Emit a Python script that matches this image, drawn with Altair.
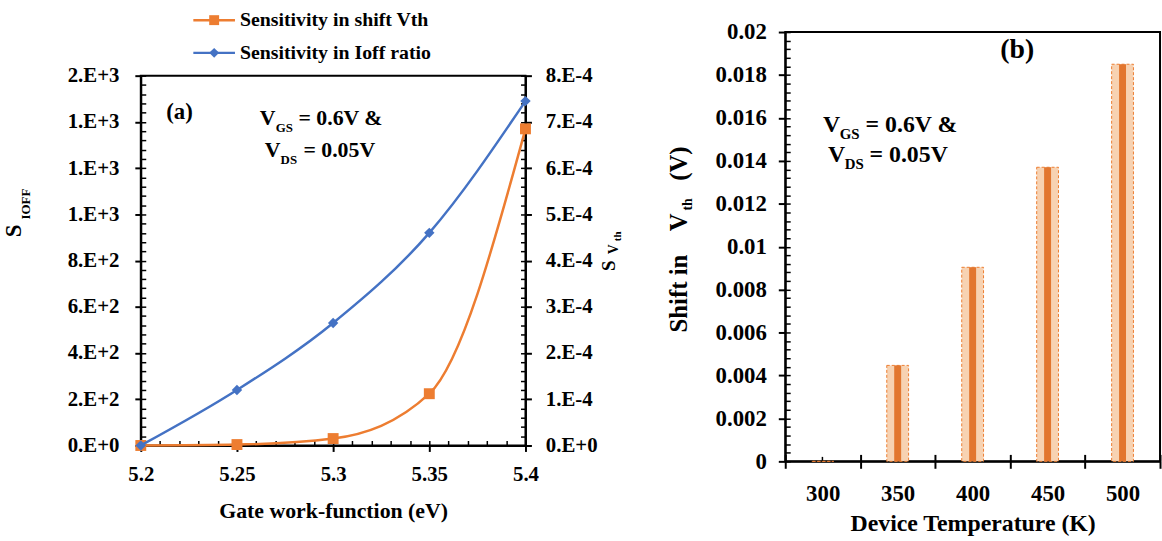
import altair as alt
import pandas as pd

FONT = "Liberation Serif"
ORANGE = "#ED7D31"
BLUE = "#4472C4"

# ---------------- Panel (a) data ----------------
work_function = [5.2, 5.25, 5.3, 5.35, 5.4]
sens_ioff = [0, 240, 530, 920, 1490]
sens_vth = [0.0, 0.000002, 0.000015, 0.000112, 0.000685]

x_ticks_a = [5.2, 5.25, 5.3, 5.35, 5.4]
x_labels_a = ["5.2", "5.25", "5.3", "5.35", "5.4"]
left_ticks = [0, 200, 400, 600, 800, 1000, 1200, 1400, 1600]
left_labels = ["0.E+0", "2.E+2", "4.E+2", "6.E+2", "8.E+2", "1.E+3", "1.E+3", "1.E+3", "2.E+3"]
right_ticks = [0, 0.0001, 0.0002, 0.0003, 0.0004, 0.0005, 0.0006, 0.0007, 0.0008]
right_labels = ["0.E+0", "1.E-4", "2.E-4", "3.E-4", "4.E-4", "5.E-4", "6.E-4", "7.E-4", "8.E-4"]

# ---------------- Panel (b) data ----------------
temperature = ["300", "350", "400", "450", "500"]
shift_vth = [0.0, 0.00447, 0.00904, 0.0137, 0.0185]
b_ticks = [0, 0.002, 0.004, 0.006, 0.008, 0.01, 0.012, 0.014, 0.016, 0.018, 0.02]
b_labels = ["0", "0.002", "0.004", "0.006", "0.008", "0.01", "0.012", "0.014", "0.016", "0.018", "0.02"]

# minor tick positions (axis styling)
minor_x_a = [round(5.2 + i * 0.01, 2) for i in range(21)]
minor_left = [i * 40 for i in range(41)]
minor_right = [round(i * 0.00002, 6) for i in range(41)]
minor_b = [round(i * 0.0004, 4) for i in range(51)]

W_A, H_A = 388, 373
W_B, H_B = 378, 433


def lab_expr(ticks, labels):
    arr = "[" + ",".join(f"'{l}'" for l in labels) + "]"
    tarr = "[" + ",".join(repr(t) for t in ticks) + "]"
    return f"{arr}[indexof({tarr}, datum.value)]"


def txt(text, x, y, size, angle=0, align="left", baseline="alphabetic"):
    return alt.Chart(pd.DataFrame({"k": [0]})).mark_text(
        text=text, font=FONT, fontWeight="bold", fontSize=size, angle=angle,
        align=align, baseline=baseline, color="black"
    ).encode(x=alt.value(x), y=alt.value(y))


df_a = pd.DataFrame({"wf": work_function, "ioff": sens_ioff, "vth": sens_vth})
df_b = pd.DataFrame({"temp": temperature, "shift": shift_vth})

xs_a = alt.Scale(domain=[5.2, 5.4], nice=False, zero=False)
y1s = alt.Scale(domain=[0, 1600], nice=False)
y2s = alt.Scale(domain=[0, 0.0008], nice=False)

base_a = alt.Chart(df_a)

orange = base_a.mark_line(
    color=ORANGE, strokeWidth=2.5, interpolate="monotone",
    point=alt.OverlayMarkDef(shape="square", filled=True, size=121, color=ORANGE, opacity=1),
).encode(
    x=alt.X("wf:Q", scale=xs_a, axis=None),
    y=alt.Y("vth:Q", scale=y2s, axis=alt.Axis(
        orient="right", values=right_ticks, labelExpr=lab_expr(right_ticks, right_labels),
        tickSize=6, tickWidth=2, labelPadding=14, labelFontSize=21, title=None)),
)

orange_inner = base_a.mark_point(opacity=0).encode(
    x=alt.X("wf:Q", scale=xs_a, axis=None),
    y=alt.Y("vth:Q", scale=y2s, axis=alt.Axis(
        orient="left", offset=-W_A, values=minor_right, labels=False, domain=False,
        tickSize=5, tickWidth=1.5, title=None)),
)

blue = base_a.mark_line(
    color=BLUE, strokeWidth=2.5, interpolate="monotone",
    point=alt.OverlayMarkDef(shape="diamond", filled=True, size=110, color=BLUE, opacity=1),
).encode(
    x=alt.X("wf:Q", scale=xs_a, axis=alt.Axis(
        orient="bottom", values=x_ticks_a, labelExpr=lab_expr(x_ticks_a, x_labels_a),
        labelFlush=False, tickSize=6, tickWidth=2, labelPadding=12, labelFontSize=21,
        title="Gate work-function  (eV)", titleFontSize=22, titlePadding=17)),
    y=alt.Y("ioff:Q", scale=y1s, axis=alt.Axis(
        orient="left", values=left_ticks, labelExpr=lab_expr(left_ticks, left_labels),
        tickSize=6, tickWidth=2, labelPadding=16, labelFontSize=21, title=None)),
)

blue_inner = base_a.mark_point(opacity=0).encode(
    x=alt.X("wf:Q", scale=xs_a, axis=alt.Axis(
        orient="top", offset=-H_A, values=minor_x_a, labels=False, domain=False,
        tickSize=5, tickWidth=1.5, title=None)),
    y=alt.Y("ioff:Q", scale=y1s, axis=alt.Axis(
        orient="right", offset=-W_A, values=minor_left, labels=False, domain=False,
        tickSize=5, tickWidth=1.5, title=None)),
)

ann_a = [
    txt("(a)", 39, 37, 23, align="center", baseline="middle"),
    txt("V", 120, 50, 22),
    txt("GS", 136, 57, 13),
    txt("= 0.6V &", 159, 50, 22),
    txt("V", 125, 82, 22),
    txt("DS", 141, 89, 13),
    txt("= 0.05V", 164, 82, 22),
    # left axis title S_IOFF
    txt("S", -121, 163, 23, angle=270),
    txt("IOFF", -112, 145, 13, angle=270),
    # right axis title S_Vth
    txt("S", 478, 197, 19, angle=270),
    txt("V", 481, 180, 14, angle=270),
    txt("th", 484, 167, 11, angle=270),
]

panel_a = alt.layer(orange, orange_inner, blue, blue_inner, *ann_a).resolve_scale(
    x="independent", y="independent"
).properties(width=W_A, height=H_A)

# legend (manual) as its own small view above panel a
leg_df = pd.DataFrame({"k": [0]})
Y1, Y2 = -12, 21
legend_chart = alt.layer(
    alt.Chart(leg_df).mark_rule(color=ORANGE, strokeWidth=2.5).encode(
        x=alt.value(53), x2=alt.value(95), y=alt.value(Y1)),
    alt.Chart(leg_df).mark_point(shape="square", filled=True, size=100, color=ORANGE, opacity=1).encode(
        x=alt.value(74), y=alt.value(Y1)),
    txt("Sensitivity in shift Vth", 100, Y1, 20, baseline="middle"),
    alt.Chart(leg_df).mark_rule(color=BLUE, strokeWidth=2.5).encode(
        x=alt.value(53), x2=alt.value(95), y=alt.value(Y2)),
    alt.Chart(leg_df).mark_point(shape="diamond", filled=True, size=100, color=BLUE, opacity=1).encode(
        x=alt.value(74), y=alt.value(Y2)),
    txt("Sensitivity in Ioff ratio", 100, Y2, 20, baseline="middle"),
).properties(width=W_A, height=31, view=alt.ViewBackground(stroke="transparent"))

left_block = alt.vconcat(legend_chart, panel_a, spacing=0)

# ---------------- Panel (b) ----------------
xs_b = alt.Scale(type="band", domain=temperature, paddingInner=0, paddingOuter=0)
ys_b = alt.Scale(domain=[0, 0.02], nice=False)
base_b = alt.Chart(df_b)

bars_bg = base_b.mark_bar(size=22, fill="#f7d2b2", stroke=ORANGE, strokeDash=[3, 2], strokeWidth=1).encode(
    x=alt.X("temp:N", scale=xs_b, sort=temperature, axis=alt.Axis(
        orient="bottom", tickBand="extent", tickSize=7, tickWidth=2, labelAngle=0,
        labelPadding=14, labelFontSize=23, title="Device Temperature  (K)",
        titleFontSize=24, titlePadding=7)),
    y=alt.Y("shift:Q", scale=ys_b, axis=alt.Axis(
        orient="left", values=b_ticks, labelExpr=lab_expr(b_ticks, b_labels),
        tickSize=7, tickWidth=2, labelPadding=12, labelFontSize=23, title=None)),
)

bars_fg = base_b.mark_bar(size=7, fill="#e2762f").encode(
    x=alt.X("temp:N", scale=xs_b, sort=temperature, axis=None),
    y=alt.Y("shift:Q", scale=ys_b, axis=None),
)

inner_b1 = base_b.mark_point(opacity=0).encode(
    x=alt.X("temp:N", scale=xs_b, sort=temperature, axis=alt.Axis(
        orient="top", offset=-H_B, tickBand="center", labels=False, domain=False,
        tickSize=5, tickWidth=1.5, title=None)),
    y=alt.Y("shift:Q", scale=ys_b, axis=alt.Axis(
        orient="right", offset=-W_B, values=minor_b, labels=False, domain=False,
        tickSize=5, tickWidth=1.5, title=None)),
)

inner_b2 = base_b.mark_point(opacity=0).encode(
    x=alt.X("temp:N", scale=xs_b, sort=temperature, axis=alt.Axis(
        orient="top", offset=-H_B, tickBand="extent", labels=False, domain=False,
        tickSize=7, tickWidth=2, title=None)),
    y=alt.Y("shift:Q", scale=ys_b, axis=None),
)

ann_b = [
    txt("(b)", 234, 18, 28, align="center", baseline="middle"),
    txt("V", 38, 101, 24),
    txt("GS", 55, 108, 15),
    txt("= 0.6V &", 81, 101, 24),
    txt("V", 43, 131, 24),
    txt("DS", 60, 138, 15),
    txt("= 0.05V", 85, 131, 24),
    # y title: Shift in V_th (V)
    txt("Shift in", -99, 303, 25, angle=270),
    txt("V", -99, 201, 25, angle=270),
    txt("th", -94, 180, 14, angle=270),
    txt("(V)", -99, 150, 25, angle=270),
]

panel_b = alt.layer(bars_bg, bars_fg, inner_b1, inner_b2, *ann_b).resolve_scale(
    x="independent", y="independent"
).properties(width=W_B, height=H_B)

chart = alt.hconcat(left_block, panel_b, spacing=43).properties(
    padding={"left": 2, "top": 7, "right": 0, "bottom": 0}
).configure_view(
    stroke="black", strokeWidth=2
).configure_axis(
    labelFont=FONT, labelFontWeight="bold", labelColor="black",
    titleFont=FONT, titleFontWeight="bold", titleColor="black",
    domainColor="black", domainWidth=2, tickColor="black", grid=False,
)

chart.save("out.html", embed_options={"renderer": "svg", "actions": False})
